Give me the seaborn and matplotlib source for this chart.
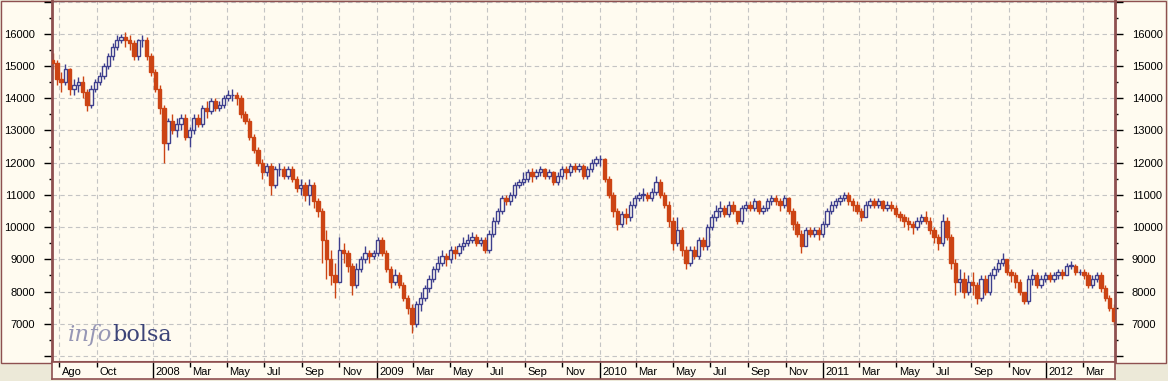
import numpy as np
import pandas as pd
import matplotlib
matplotlib.use("Agg")
import matplotlib.pyplot as plt
import matplotlib.dates as mdates
from matplotlib.patches import Rectangle
from matplotlib.ticker import MultipleLocator, FuncFormatter
import seaborn as sns

# ---------------- data (weekly candles) ----------------
first_open = 15200
close = [
    15100, 14600, 14500, 14900, 14300, 14400, 14500, 14200, 13800, 14300, 14500, 14700,
    15000, 15300, 15600, 15800, 15900, 15800, 15700, 15300, 15800, 15800, 15300, 14800,
    14300, 13700, 12600, 13300, 13000, 13200, 13400, 12800, 13000, 13400, 13200, 13700,
    13600, 13900, 13700, 13800, 14000, 14100, 14100, 14000, 13500, 13300, 12800, 12400,
    12000, 11700, 11900, 11300, 11800, 11800, 11600, 11800, 11500, 11200, 11300, 11000,
    11300, 10800, 10500, 9600, 9000, 8500, 8300, 9300, 9200, 8800, 8200, 8700,
    9000, 9200, 9100, 9200, 9600, 9200, 8700, 8300, 8500, 8200, 7800, 7500,
    7000, 7600, 7800, 8100, 8400, 8700, 8900, 9100, 9000, 9300, 9200, 9400,
    9500, 9600, 9700, 9500, 9600, 9300, 9800, 10200, 10500, 10900, 10800, 11000,
    11300, 11400, 11500, 11700, 11600, 11700, 11800, 11600, 11700, 11400, 11600, 11800,
    11700, 11900, 11800, 11900, 11600, 11800, 12000, 12100, 12100, 11500, 11000, 10500,
    10100, 10400, 10300, 10700, 10900, 11000, 11000, 10900, 11100, 11400, 11000, 10700,
    10200, 9500, 9900, 9300, 8900, 9300, 9100, 9600, 9400, 10000, 10300, 10500,
    10600, 10400, 10700, 10500, 10200, 10600, 10700, 10600, 10800, 10500, 10600, 10800,
    10900, 10800, 10700, 10900, 10500, 10100, 9800, 9400, 9900, 9800, 9900, 9800,
    10100, 10500, 10700, 10800, 10900, 11000, 10800, 10700, 10500, 10300, 10700, 10800,
    10700, 10800, 10600, 10700, 10600, 10400, 10300, 10200, 10100, 10000, 10200, 10300,
    10200, 9900, 9700, 9500, 10200, 9700, 8900, 8300, 8400, 8000, 8300, 8200,
    7800, 8400, 8000, 8500, 8700, 8900, 9000, 8600, 8500, 8300, 8000, 7700,
    8400, 8500, 8200, 8400, 8500, 8400, 8500, 8600, 8500, 8800, 8800, 8600,
    8600, 8500, 8200, 8400, 8500, 8100, 7800, 7500, 7100,
]
high = [
    15400, 15200, 14800, 15050, 14950, 14600, 14650, 14700, 14300, 14400, 14600, 14800,
    15100, 15400, 15700, 15950, 16000, 16050, 15950, 15800, 15850, 15950, 15900, 15400,
    14900, 14400, 13800, 13400, 13500, 13400, 13500, 13500, 13100, 13500, 13500, 13800,
    13900, 14000, 14000, 13900, 14100, 14250, 14300, 14200, 14100, 13600, 13400, 12900,
    12500, 12100, 12000, 12000, 11900, 12000, 11900, 11900, 11900, 11600, 11500, 11400,
    11500, 11400, 10900, 10600, 9900, 9300, 8900, 9700, 9500, 9300, 8900, 8900,
    9100, 9400, 9300, 9300, 9700, 9700, 9300, 8800, 8700, 8600, 8300, 7900,
    7600, 7700, 8000, 8200, 8500, 8800, 9100, 9300, 9200, 9400, 9400, 9500,
    9700, 9800, 9850, 9800, 9700, 9700, 9900, 10300, 10600, 11000, 11000, 11100,
    11400, 11500, 11700, 11800, 11850, 11800, 11900, 11850, 11800, 11750, 11700, 11900,
    11900, 12000, 12000, 12000, 11950, 11900, 12100, 12200, 12250, 12150, 11600, 11100,
    10600, 10500, 10600, 10800, 11000, 11100, 11200, 11100, 11200, 11600, 11500, 11100,
    10800, 10300, 10300, 10000, 9400, 9400, 9400, 9700, 9700, 10100, 10400, 10700,
    10800, 10700, 10800, 10800, 10500, 10700, 10800, 10800, 10900, 10850, 10700, 10900,
    11000, 11000, 10900, 11000, 10950, 10600, 10200, 9900, 10000, 10000, 10000, 10000,
    10200, 10600, 10800, 10900, 11000, 11100, 11100, 10900, 10800, 10600, 10800, 10900,
    10900, 10900, 10850, 10800, 10800, 10700, 10500, 10400, 10300, 10200, 10300, 10400,
    10500, 10300, 10000, 9800, 10400, 10300, 9800, 9000, 8700, 8600, 8500, 8600,
    8300, 8500, 8500, 8600, 8800, 9000, 9200, 9000, 8700, 8600, 8400, 8000,
    8500, 8700, 8600, 8500, 8600, 8600, 8600, 8700, 8700, 8900, 8950, 8850,
    8700, 8700, 8600, 8500, 8600, 8600, 8200, 7900, 7600,
]
low = [
    14900, 14400, 14200, 14400, 14100, 14100, 14200, 14000, 13600, 13700, 14200, 14400,
    14600, 14900, 15200, 15500, 15700, 15600, 15500, 15200, 15200, 15600, 15200, 14700,
    14200, 13500, 12000, 12400, 12900, 12800, 13000, 12700, 12500, 12900, 13100, 13100,
    13400, 13500, 13600, 13600, 13700, 13900, 13900, 13800, 13400, 13200, 12700, 12300,
    11900, 11500, 11600, 11000, 11200, 11600, 11500, 11500, 11400, 11100, 11000, 10800,
    10700, 10600, 10300, 8900, 8400, 8200, 7800, 8300, 8900, 8600, 7900, 8100,
    8600, 8900, 8900, 9000, 9100, 9100, 8600, 8100, 8200, 8100, 7700, 7300,
    6700, 6900, 7400, 7700, 8000, 8300, 8600, 8800, 8800, 8900, 9000, 9100,
    9300, 9400, 9500, 9400, 9400, 9200, 9200, 9700, 10100, 10400, 10700, 10700,
    10900, 11200, 11300, 11400, 11400, 11500, 11600, 11500, 11500, 11300, 11300, 11500,
    11500, 11600, 11700, 11700, 11500, 11500, 11700, 11900, 11900, 11400, 10900, 10300,
    9900, 10000, 10100, 10200, 10600, 10800, 10800, 10800, 10800, 11000, 10900, 10600,
    10000, 9300, 9400, 9100, 8700, 8800, 9000, 9000, 9300, 9300, 9900, 10200,
    10300, 10300, 10300, 10400, 10100, 10100, 10500, 10500, 10500, 10400, 10400, 10500,
    10700, 10700, 10500, 10600, 10400, 9900, 9700, 9200, 9400, 9700, 9700, 9600,
    9700, 10000, 10400, 10600, 10700, 10800, 10700, 10500, 10400, 10200, 10300, 10600,
    10600, 10600, 10500, 10500, 10500, 10300, 10200, 10000, 9900, 9800, 9900, 10100,
    10100, 9800, 9500, 9300, 9400, 9600, 8700, 7900, 8000, 7800, 7900, 7900,
    7600, 7700, 7900, 7900, 8400, 8600, 8800, 8500, 8300, 8100, 7900, 7600,
    7600, 8200, 8100, 8100, 8300, 8300, 8300, 8400, 8400, 8500, 8700, 8500,
    8500, 8400, 8100, 8100, 8300, 8000, 7700, 7400, 6950,
]
week_dates = pd.date_range("2007-07-21", periods=len(close), freq="7D")

tick_dates = [
    "2007-08-01", "2007-10-01",
    "2008-01-01", "2008-03-01", "2008-05-01", "2008-07-01", "2008-09-01", "2008-11-01",
    "2009-01-01", "2009-03-01", "2009-05-01", "2009-07-01", "2009-09-01", "2009-11-01",
    "2010-01-01", "2010-03-01", "2010-05-01", "2010-07-01", "2010-09-01", "2010-11-01",
    "2011-01-01", "2011-03-01", "2011-05-01", "2011-07-01", "2011-09-01", "2011-11-01",
    "2012-01-01", "2012-03-01",
]
tick_labels = [
    "Ago", "Oct",
    "2008", "Mar", "May", "Jul", "Sep", "Nov",
    "2009", "Mar", "May", "Jul", "Sep", "Nov",
    "2010", "Mar", "May", "Jul", "Sep", "Nov",
    "2011", "Mar", "May", "Jul", "Sep", "Nov",
    "2012", "Mar",
]
y_major = [6000, 7000, 8000, 9000, 10000, 11000, 12000, 13000, 14000, 15000, 16000, 17000]

# ---------------- style ----------------
CREAM = "#FFFBF0"
GREYBG = "#ECE9D8"
BROWN = "#8E5050"
UPC = "#3E3F8E"
DOWNC = "#CC4414"
GRIDC = "#C4C4C4"

sns.set_theme(style="ticks")
plt.rcParams["font.family"] = ["Liberation Sans", "DejaVu Sans"]
plt.rcParams["font.size"] = 8

W, H = 1168, 381
fig = plt.figure(figsize=(W / 100, H / 100), dpi=100)
fig.patch.set_facecolor(GREYBG)
fig.patches.append(Rectangle((0.5 / W, 1 - 363 / H), 1165 / W, 362.5 / H,
                             transform=fig.transFigure, facecolor=CREAM,
                             edgecolor=BROWN, lw=1.0, zorder=-10))

ax = fig.add_axes([52 / W, 1 - 362 / H, 1063 / W, 361.5 / H])
ax.set_facecolor(CREAM)
ax.set_zorder(2)

xl = (mdates.date2num(pd.Timestamp("2007-07-20")), mdates.date2num(pd.Timestamp("2012-04-23")))

# ---------------- candles ----------------
c = np.array(close, dtype=float)
o = np.concatenate([[first_open], c[:-1]])
hi = np.array(high, dtype=float)
lo = np.array(low, dtype=float)
x = mdates.date2num(week_dates)
up = c >= o
body_lo = np.minimum(o, c)
body_h = np.maximum(np.abs(c - o), 15)

ax.vlines(x[up], lo[up], hi[up], color=UPC, lw=1.0, zorder=2)
ax.vlines(x[~up], lo[~up], hi[~up], color=DOWNC, lw=1.0, zorder=2)
ax.bar(x[up], body_h[up], bottom=body_lo[up], width=5.5, facecolor=CREAM,
       edgecolor=UPC, lw=1.0, zorder=3)
ax.bar(x[~up], body_h[~up], bottom=body_lo[~up], width=5.5, facecolor=DOWNC,
       edgecolor=DOWNC, lw=1.0, zorder=3)

ax.set_xlim(*xl)
ax.set_ylim(5814, 17034)

tnum = mdates.date2num(pd.to_datetime(tick_dates))
ax.set_xticks(tnum)
ax.set_xticklabels([])
ax.tick_params(axis="x", length=0)
ax.set_yticks(y_major)
ax.yaxis.set_minor_locator(MultipleLocator(500))
ax.yaxis.set_major_formatter(FuncFormatter(lambda v, p: "" if v < 6500 or v > 16500 else f"{int(v)}"))
ax.tick_params(axis="y", which="both", left=True, right=True, labelleft=True,
               labelright=True, direction="out", color="black", width=1,
               labelsize=8, labelcolor="black", pad=6)
ax.tick_params(axis="y", which="major", length=6)
ax.tick_params(axis="y", which="minor", length=2.5)
ax.grid(True, which="major", color=GRIDC, linestyle=(0, (4, 3)), linewidth=0.8)
ax.set_axisbelow(True)
for side in ("left", "right"):
    ax.spines[side].set_color(BROWN)
    ax.spines[side].set_linewidth(2.0)
ax.spines["top"].set_color(BROWN)
ax.spines["top"].set_linewidth(1.0)
ax.spines["bottom"].set_color(BROWN)
ax.spines["bottom"].set_linewidth(1.5)

# ---------------- date strip ----------------
ax2 = fig.add_axes([52 / W, 1 - 379 / H, 1063 / W, 17 / H])
ax2.set_facecolor(CREAM)
ax2.set_zorder(2)
ax2.set_xlim(*xl)
ax2.set_ylim(0, 1)
ax2.set_xticks([])
ax2.set_yticks([])
for sp in ax2.spines.values():
    sp.set_color(BROWN)
    sp.set_linewidth(1.2)
for t, lab in zip(tnum, tick_labels):
    if lab.isdigit():
        ax2.vlines(t, 0, 1, color="black", lw=1)
    else:
        ax2.vlines(t, 0.72, 1, color="black", lw=1)
    ax2.annotate(lab, xy=(t, 0.42), xytext=(2.5, 0), textcoords="offset pixels",
                 ha="left", va="center", fontsize=8, color="black")

# ---------------- watermark ----------------
ax.text(68 / W, 1 - 341 / H, "info", family="DejaVu Serif", style="italic",
        fontsize=16.5, color="#9797B5", va="baseline", ha="left",
        transform=fig.transFigure, zorder=1)
ax.text(112 / W, 1 - 341 / H, "bolsa", family="DejaVu Serif",
        fontsize=16, color="#3C4478", va="baseline", ha="left",
        transform=fig.transFigure, zorder=1)

fig.savefig("out.png", dpi=100, facecolor=fig.get_facecolor())
